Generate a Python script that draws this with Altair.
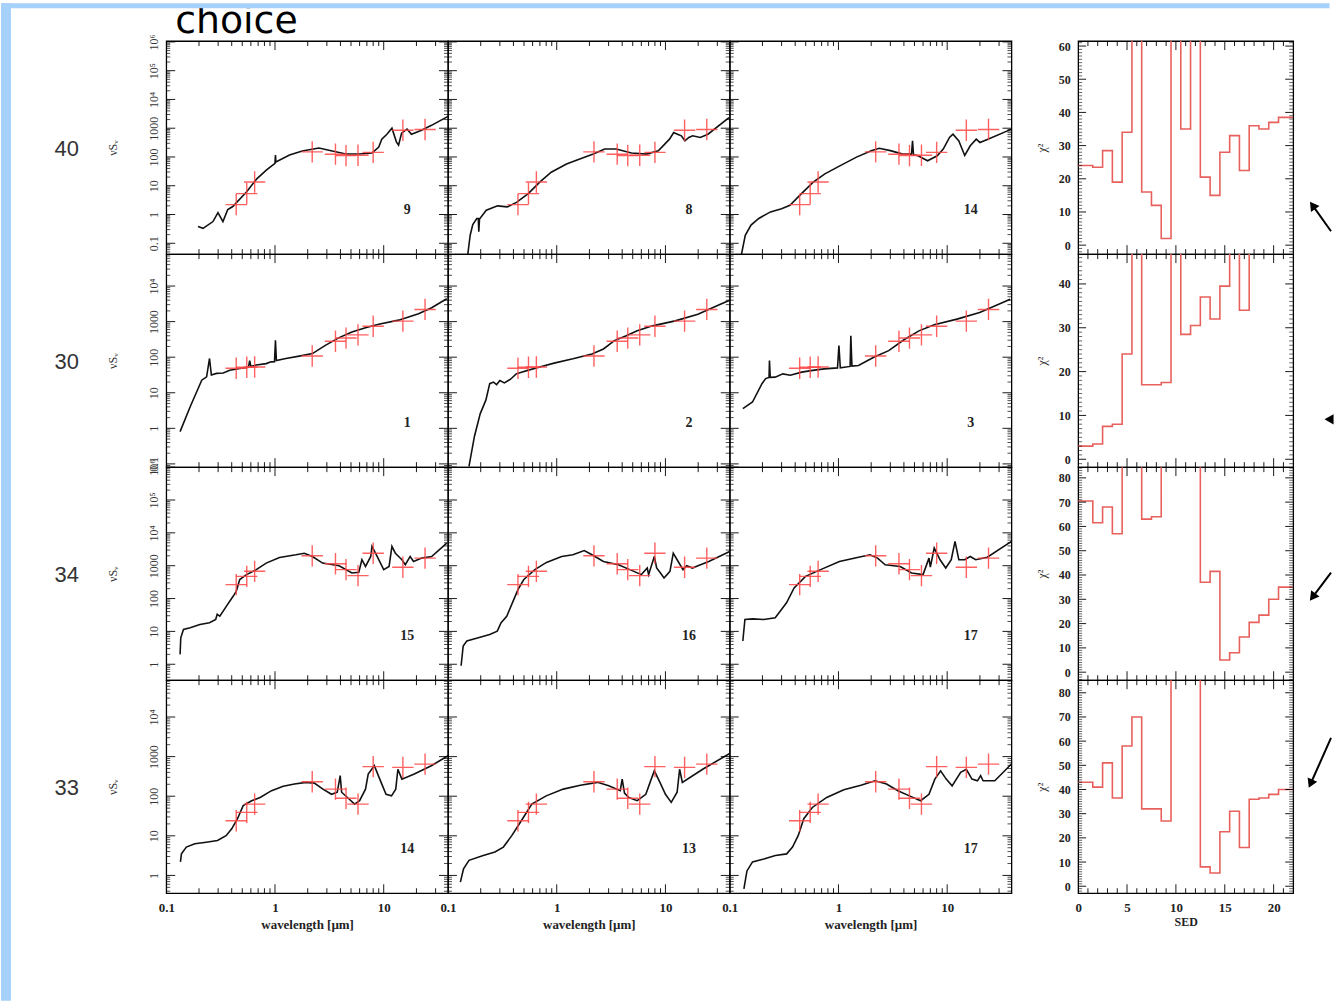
import altair as alt
import pandas as pd

# ---------------- data ----------------
galaxies = [40, 30, 34, 33]
templates = {40: [9, 8, 14], 30: [1, 2, 3], 34: [15, 16, 17], 33: [14, 13, 17]}

# photometric points (wavelength in micron, nu*S_nu)
cross_lam = [0.44, 0.55, 0.65, 2.2, 3.6, 4.5, 5.8, 8.0, 15.0, 24.0]
cross_40 = [2.2, 5.3, 13.5, 150, 125, 112, 115, 145, 850, 900]
cross_30 = [49, 52, 53, 108, 280, 345, 425, 740, 1030, 2200]
cross_34 = [265, 475, 675, 2000, 1150, 760, 500, 2400, 900, 1700]
cross_33 = [24, 39, 63, 232, 151, 89, 63, 560, 535, 645]

# template SEDs
lam_40_9 = [0.196, 0.218, 0.269, 0.299, 0.332, 0.368, 0.409, 0.549, 0.68, 0.837, 1.0, 1.01, 1.02, 1.36, 1.78, 2.54, 3.36, 4.49, 5.9, 7.8, 9.0, 9.6, 10.7, 11.9, 13.1, 13.7, 14.6, 16.4, 18.0, 22.3, 27.5, 39.0]
flux_40_9 = [0.385, 0.33, 0.57, 1.17, 0.57, 1.49, 1.89, 6.2, 17.4, 35.6, 60, 117, 67, 117, 161, 204, 161, 127, 127, 137, 221, 417, 617, 1000, 329, 260, 676, 925, 617, 850, 1260, 2580]
lam_40_8 = [0.152, 0.16, 0.169, 0.184, 0.19, 0.192, 0.195, 0.225, 0.286, 0.351, 0.43, 0.547, 0.698, 0.89, 1.23, 1.70, 2.17, 2.76, 3.52, 4.87, 6.7, 8.6, 10.9, 11.9, 12.9, 14.0, 15.1, 16.4, 17.8, 20.9, 24.6, 38.4]
flux_40_8 = [0.04, 0.19, 0.45, 0.73, 0.73, 0.25, 0.7, 1.41, 2.0, 1.84, 2.7, 5.3, 13.4, 29.5, 57, 90, 126, 189, 189, 137, 126, 165, 417, 708, 620, 545, 366, 477, 545, 477, 617, 2350]
lam_40_14 = [0.128, 0.139, 0.157, 0.185, 0.237, 0.30, 0.358, 0.457, 0.586, 0.75, 1.04, 1.45, 2.0, 2.37, 3.0, 3.9, 4.7, 4.8, 4.9, 5.4, 6.6, 8.1, 9.2, 10.5, 11.3, 12.8, 14.5, 16.3, 18.5, 20.0, 23.7, 39.0]
flux_40_14 = [0.04, 0.19, 0.43, 0.73, 1.23, 1.6, 2.1, 5.3, 13.4, 26, 50, 97, 166, 200, 166, 126, 126, 363, 120, 110, 74, 110, 189, 480, 617, 363, 113, 245, 417, 320, 417, 930]

lam_30_1 = [0.134, 0.166, 0.212, 0.235, 0.25, 0.26, 0.29, 0.334, 0.384, 0.474, 0.57, 0.585, 0.6, 0.673, 0.83, 0.92, 0.99, 1.01, 1.03, 1.26, 1.67, 2.21, 2.93, 3.89, 5.1, 6.8, 9.0, 13.7, 20.9, 27.6, 38.0]
flux_30_1 = [0.81, 4.05, 22.6, 28, 92, 31.6, 35, 36, 43, 48, 52, 80, 55, 60, 66, 74, 75, 300, 80, 92, 107, 126, 218, 355, 513, 676, 840, 1100, 1660, 2460, 4400]
lam_30_2 = [0.156, 0.175, 0.198, 0.223, 0.242, 0.262, 0.28, 0.30, 0.33, 0.376, 0.424, 0.54, 0.685, 0.946, 1.41, 2.11, 2.69, 3.39, 4.36, 5.5, 7.6, 12.3, 19.9, 32.0, 38.5]
flux_30_2 = [0.085, 0.59, 2.6, 6.2, 18, 20, 17, 22, 19, 24, 34, 42.6, 52, 68, 90, 123, 170, 292, 400, 550, 760, 1050, 1620, 3080, 3900]
lam_30_3 = [0.132, 0.162, 0.198, 0.214, 0.23, 0.232, 0.236, 0.262, 0.308, 0.361, 0.459, 0.58, 0.74, 0.98, 1.01, 1.04, 1.28, 1.30, 1.33, 1.53, 2.11, 2.9, 3.97, 5.5, 7.6, 12.3, 19.9, 38.0]
flux_30_3 = [3.6, 5.5, 18, 25, 27, 81, 27, 27.5, 34, 31, 38, 42.6, 47, 50, 213, 50, 55, 400, 56, 58.5, 100, 153, 304, 550, 815, 1175, 1815, 4260]

lam_34_15 = [0.134, 0.136, 0.144, 0.166, 0.204, 0.25, 0.285, 0.294, 0.311, 0.358, 0.412, 0.44, 0.474, 0.547, 0.673, 0.83, 1.10, 1.56, 1.86, 2.21, 2.74, 3.89, 5.1, 5.9, 6.3, 6.8, 7.6, 7.8, 8.7, 10.0, 11.2, 11.9, 12.8, 14.7, 15.8, 17.5, 18.8, 22.4, 27.6, 38.0]
flux_34_15 = [2.0, 6.4, 11.5, 13, 16.3, 18.3, 23, 33, 29, 59, 117, 166, 380, 535, 760, 1200, 1780, 2150, 2400, 1910, 1200, 1000, 600, 630, 1520, 950, 1910, 3850, 1910, 760, 950, 3850, 2400, 1520, 1070, 1910, 1350, 1700, 1910, 4900]
lam_34_16 = [0.132, 0.138, 0.149, 0.19, 0.242, 0.284, 0.308, 0.347, 0.391, 0.44, 0.498, 0.63, 0.805, 1.11, 1.41, 1.79, 2.11, 2.69, 3.7, 4.7, 6.0, 6.8, 7.0, 7.9, 8.3, 9.0, 9.7, 11.0, 11.8, 12.8, 14.5, 15.7, 17.7, 19.9, 25.0, 39.0]
flux_34_16 = [0.9, 3.6, 5.1, 6.4, 8.1, 10.2, 18.3, 29, 74, 186, 380, 760, 1260, 1910, 2150, 2900, 2150, 1350, 1070, 760, 535, 850, 535, 1910, 850, 600, 425, 675, 2400, 1520, 760, 1000, 850, 1000, 1350, 2700]
lam_34_17 = [0.132, 0.138, 0.162, 0.206, 0.262, 0.284, 0.333, 0.391, 0.498, 0.686, 1.02, 1.53, 1.95, 2.29, 2.69, 3.7, 4.7, 6.0, 6.8, 7.0, 7.6, 8.6, 9.7, 10.9, 11.8, 12.8, 14.5, 16.3, 18.3, 23.4, 39.0]
flux_34_17 = [5.1, 23, 24, 23, 26, 37, 74, 210, 475, 760, 1350, 1820, 2150, 1700, 1070, 950, 600, 535, 1700, 900, 3450, 1520, 850, 1520, 5500, 1520, 1520, 1910, 1520, 1820, 5500]

lam_33_14 = [0.135, 0.138, 0.153, 0.183, 0.233, 0.296, 0.355, 0.40, 0.452, 0.51, 0.61, 0.73, 0.93, 1.19, 1.51, 1.93, 2.3, 2.76, 3.31, 3.74, 3.98, 4.1, 4.8, 5.4, 6.0, 6.8, 7.2, 8.2, 9.2, 10.5, 11.8, 12.9, 13.5, 14.7, 19.1, 27.4, 39.0]
flux_33_14 = [2.2, 3.5, 5.2, 6.3, 6.9, 7.6, 10.1, 15, 27, 58, 77, 93, 138, 178, 204, 224, 214, 151, 112, 126, 330, 126, 85, 63, 77, 151, 363, 589, 270, 112, 102, 151, 480, 270, 363, 589, 1050]
lam_33_13 = [0.13, 0.139, 0.156, 0.211, 0.27, 0.323, 0.386, 0.463, 0.59, 0.80, 1.15, 1.65, 2.37, 3.01, 3.84, 4.0, 4.2, 4.6, 5.5, 6.6, 7.4, 7.9, 8.9, 10.0, 11.3, 12.8, 13.5, 14.3, 22.0, 39.0]
flux_33_13 = [0.68, 1.47, 2.4, 3.2, 3.9, 5.2, 10.1, 22, 63, 102, 151, 190, 224, 183, 138, 270, 120, 93, 77, 112, 270, 437, 224, 112, 70, 126, 480, 224, 480, 1200]
lam_33_17 = [0.135, 0.144, 0.162, 0.206, 0.263, 0.334, 0.378, 0.426, 0.48, 0.575, 0.78, 1.12, 1.61, 2.17, 2.77, 3.52, 4.5, 5.7, 6.8, 7.7, 8.7, 9.8, 11.1, 13.3, 15.0, 16.9, 19.0, 20.3, 21.4, 27.4, 39.0]
flux_33_17 = [0.46, 1.3, 2.2, 2.6, 3.2, 3.5, 5.2, 10.1, 27, 52, 93, 145, 190, 245, 204, 138, 102, 77, 112, 270, 437, 270, 183, 400, 480, 270, 245, 330, 245, 245, 650]

# chi^2 of templates SED 1..21 (values of 100 are off the top of the panel)
chi2_40 = [24, 23.5, 28.5, 19, 34, 100, 16, 12, 2, 100, 35, 100, 20.5, 15, 28, 33, 22.5, 36, 35, 37, 38.5]
chi2_30 = [3, 3.5, 7.5, 8, 24, 100, 17, 17, 17.5, 100, 28.5, 30.5, 37, 32, 39.5, 100, 34, 100, 100, 100, 100]
chi2_34 = [70.5, 61.5, 68, 57, 100, 100, 63, 64, 100, 100, 100, 100, 37, 41.5, 5, 8, 14.5, 20.5, 23.5, 30, 35]
chi2_33 = [43, 41, 51, 36.5, 58, 70, 32, 32, 27, 100, 100, 100, 8, 5.5, 22.5, 31, 16, 36, 36.5, 38, 40]

sed_lam = {(40, 9): lam_40_9, (40, 8): lam_40_8, (40, 14): lam_40_14,
           (30, 1): lam_30_1, (30, 2): lam_30_2, (30, 3): lam_30_3,
           (34, 15): lam_34_15, (34, 16): lam_34_16, (34, 17): lam_34_17,
           (33, 14): lam_33_14, (33, 13): lam_33_13, (33, 17): lam_33_17}
sed_flux = {(40, 9): flux_40_9, (40, 8): flux_40_8, (40, 14): flux_40_14,
            (30, 1): flux_30_1, (30, 2): flux_30_2, (30, 3): flux_30_3,
            (34, 15): flux_34_15, (34, 16): flux_34_16, (34, 17): flux_34_17,
            (33, 14): flux_33_14, (33, 13): flux_33_13, (33, 17): flux_33_17}
cross_flux = {40: cross_40, 30: cross_30, 34: cross_34, 33: cross_33}
chi2 = {40: chi2_40, 30: chi2_30, 34: chi2_34, 33: chi2_33}

# ---------------- layout / style ----------------
W, H, HW, GAP = 283, 214, 216, 67
XDOM = [0.1, 39.0]
YDOM = {40: [0.042, 1.07e6], 30: [0.081, 7.9e4], 34: [0.327, 1.0e6], 33: [0.355, 8.5e4]}
HDOM = {40: [-2.7, 61.5], 30: [-1.8, 46.8], 34: [-3.3, 84.4], 33: [-2.9, 85.2]}
SERIF = "Liberation Serif"
BLUE = "#a6d1fa"
RED = "#ff4646"
HRED = "#e8605c"

YLAB = ("datum.value < 0.5 ? '0.1' : datum.value < 5 ? '1' : datum.value < 50 ? '10' : "
        "datum.value < 500 ? '100' : datum.value < 5000 ? '1000' : datum.value < 50000 ? '10⁴' : "
        "datum.value < 500000 ? '10⁵' : '10⁶'")
XLAB = "datum.value < 0.5 ? '0.1' : datum.value < 5 ? '1' : '10'"


def decades(lo, hi):
    return [10.0 ** k for k in range(-3, 8) if lo * 0.999 <= 10.0 ** k <= hi * 1.001]


def log_minors(lo, hi):
    return [m * 10.0 ** k for k in range(-3, 8) for m in range(2, 10) if lo < m * 10.0 ** k < hi]


def one():
    return pd.DataFrame({"a": [0]})


def vticks(vals, scale, axis, length, edge, height, sw=0.9):
    y0, y1 = (height, height - length) if edge == "bottom" else (0, length)
    return alt.Chart(pd.DataFrame({"v": vals})).mark_rule(color="black", strokeWidth=sw).encode(
        x=alt.X("v:Q", scale=scale, axis=axis), y=alt.value(y0), y2=alt.value(y1))


def hticks(vals, scale, axis, length, edge, width, sw=0.9):
    x0, x1 = (0, length) if edge == "left" else (width, width - length)
    return alt.Chart(pd.DataFrame({"v": vals})).mark_rule(color="black", strokeWidth=sw).encode(
        y=alt.Y("v:Q", scale=scale, axis=axis), x=alt.value(x0), x2=alt.value(x1))


def decor_layers():
    left = alt.Chart(one()).mark_rect(color=BLUE).encode(
        x=alt.value(-166), x2=alt.value(-156), y=alt.value(-38), y2=alt.value(964))
    title = alt.Chart(pd.DataFrame({"t": ["choice"]})).mark_text(
        align="left", baseline="alphabetic", font="DejaVu Sans", fontSize=38, color="black").encode(
        x=alt.value(9), y=alt.value(-8), text="t:N")
    top = alt.Chart(one()).mark_rect(color=BLUE).encode(
        x=alt.value(-166), x2=alt.value(1168.5), y=alt.value(-38), y2=alt.value(-33))
    return [left, title, top]


def sed_panel(gal, ci, tmpl, last_row):
    lo, hi = YDOM[gal]
    xs = alt.Scale(type="log", domain=XDOM, nice=False)
    ys = alt.Scale(type="log", domain=[lo, hi], nice=False)
    xaxis = None
    if last_row:
        xaxis = alt.Axis(values=[0.1, 1, 10], labelExpr=XLAB, ticks=False, domain=False,
                         grid=False, labelFlush=False, labelOverlap=False, labelPadding=8, zindex=1,
                         labelFont=SERIF, labelFontSize=13, labelFontWeight="bold", labelColor="#222",
                         title="wavelength [µm]", titleFont=SERIF, titleFontSize=13,
                         titleFontWeight="bold", titleColor="#222", titlePadding=4)
    yaxis = None
    if ci == 0:
        yaxis = alt.Axis(values=decades(lo, hi), labelExpr=YLAB, ticks=False, domain=False,
                         grid=False, labelAngle=-90, labelAlign="center", labelBaseline="bottom",
                         labelPadding=6, labelOverlap=False, labelFlush=False, labelFont=SERIF,
                         labelFontSize=12, labelColor="#333", zindex=1,
                         title="νSᵥ", titleFont=SERIF, titleFontSize=12, titleFontWeight="normal",
                         titleColor="#333", titlePadding=28)
    df = pd.DataFrame({"lam": sed_lam[(gal, tmpl)], "flux": sed_flux[(gal, tmpl)]})
    layers = [alt.Chart(df).mark_line(color="#111", strokeWidth=1.6, clip=True).encode(
        x=alt.X("lam:Q", scale=xs, axis=xaxis), y=alt.Y("flux:Q", scale=ys, axis=yaxis))]
    if gal == galaxies[0] and ci == 0:
        layers += decor_layers()
    xmaj, xmin = [1.0, 10.0], log_minors(*XDOM)
    ymaj, ymin = decades(lo, hi), log_minors(lo, hi)
    layers += [
        vticks(xmaj, xs, xaxis, 9, "bottom", H), vticks(xmin, xs, xaxis, 5, "bottom", H),
        vticks(xmaj, xs, xaxis, 9, "top", H), vticks(xmin, xs, xaxis, 5, "top", H),
        hticks(ymaj, ys, yaxis, 9, "left", W), hticks(ymin, ys, yaxis, 4, "left", W, 0.7),
        hticks(ymaj, ys, yaxis, 9, "right", W), hticks(ymin, ys, yaxis, 4, "right", W, 0.7),
    ]
    dfc = pd.DataFrame({"lam": cross_lam, "flux": cross_flux[gal]})
    layers.append(alt.Chart(dfc).mark_point(shape="M-1,0L1,0M0,-1L0,1", size=460, filled=False,
                                            color=RED, strokeWidth=1.4, opacity=0.85).encode(
        x=alt.X("lam:Q", scale=xs, axis=xaxis), y=alt.Y("flux:Q", scale=ys, axis=yaxis)))
    layers.append(alt.Chart(pd.DataFrame({"t": [str(tmpl)]})).mark_text(
        font=SERIF, fontSize=14, fontWeight="bold", color="#222").encode(
        x=alt.value(242), y=alt.value(170), text="t:N"))
    if ci == 0:
        layers.append(alt.Chart(pd.DataFrame({"t": [str(gal)]})).mark_text(
            font="Liberation Sans", fontSize=22, color="#333").encode(
            x=alt.value(-100), y=alt.value(108), text="t:N"))
    return alt.layer(*layers).properties(width=W, height=H)


ARROWS = {40: ((254, 191), (235.5, 165), 324.7),
          30: ((254, 166), (252, 166), 270),
          34: ((254, 106), (235.5, 130.5), 216.9),
          33: ((254, 58), (233.5, 104), 203.7)}


def hist_panel(gal, last_row):
    lo, hi = HDOM[gal]
    xs = alt.Scale(domain=[0, 22], nice=False, zero=False)
    ys = alt.Scale(domain=[lo, hi], nice=False, zero=False)
    vals = chi2[gal]
    edges = [0.0] + [k + 0.5 for k in range(1, len(vals))] + [22.0]
    df = pd.DataFrame({"sed": edges, "chi2": list(vals) + [vals[-1]]})
    xaxis = None
    if last_row:
        xaxis = alt.Axis(values=[0, 5, 10, 15, 20], ticks=False, domain=False, grid=False,
                         labelFlush=False, labelOverlap=False, labelPadding=8, labelFont=SERIF,
                         labelFontSize=13, labelFontWeight="bold", labelColor="#222", zindex=1,
                         title="SED", titleFont=SERIF, titleFontSize=12, titleFontWeight="bold",
                         titleColor="#222", titlePadding=2)
    yaxis = alt.Axis(values=list(range(0, int(hi) + 1, 10)), ticks=False, domain=False,
                     grid=False, labelPadding=8, labelOverlap=False, labelFont=SERIF, labelFontSize=12,
                     labelFontWeight="bold", labelColor="#222", title="χ²", titleFont=SERIF, zindex=1,
                     titleFontSize=12, titleFontWeight="normal", titleColor="#222", titlePadding=10)
    xmaj = [5, 10, 15, 20]
    xmin = [k for k in range(1, 22) if k % 5]
    ymaj = [v for v in range(-10, 100, 10) if lo < v < hi]
    ymin = [v for v in range(-10, 100) if lo < v < hi and v % 10]
    layers = [
        alt.Chart(df).mark_line(interpolate="step-after", color=HRED, strokeWidth=1.6, clip=True).encode(
            x=alt.X("sed:Q", scale=xs, axis=xaxis), y=alt.Y("chi2:Q", scale=ys, axis=yaxis)),
        vticks(xmaj, xs, xaxis, 9, "bottom", H), vticks(xmin, xs, xaxis, 5, "bottom", H),
        vticks(xmaj, xs, xaxis, 9, "top", H), vticks(xmin, xs, xaxis, 5, "top", H),
        hticks(ymaj, ys, yaxis, 8, "left", HW), hticks(ymin, ys, yaxis, 4, "left", HW, 0.6),
        hticks(ymaj, ys, yaxis, 8, "right", HW), hticks(ymin, ys, yaxis, 4, "right", HW, 0.6),
    ]
    tail, head, ang = ARROWS[gal]
    layers.append(alt.Chart(one()).mark_rule(color="black", strokeWidth=2).encode(
        x=alt.value(tail[0]), y=alt.value(tail[1]), x2=alt.value(head[0]), y2=alt.value(head[1])))
    layers.append(alt.Chart(one()).mark_point(shape="triangle-up", size=110, filled=True, color="black",
                                              opacity=1, angle=ang).encode(
        x=alt.value(head[0]), y=alt.value(head[1])))
    return alt.layer(*layers).properties(width=HW, height=H)


def spacer():
    return alt.Chart(one()).mark_point(opacity=0).encode(
        x=alt.value(0), y=alt.value(0)).properties(
        width=GAP, height=H, view=alt.ViewBackground(stroke="transparent"))


panels = []
for ri, gal in enumerate(galaxies):
    last = ri == len(galaxies) - 1
    for ci, tmpl in enumerate(templates[gal]):
        panels.append(sed_panel(gal, ci, tmpl, last))
    panels.append(spacer())
    panels.append(hist_panel(gal, last))

chart = alt.concat(*panels, columns=5, spacing=0, bounds="flush", align="each").configure_view(
    stroke="black", strokeWidth=1.3).properties(padding=0, background="white")

chart.save("out.html", embed_options={"renderer": "svg", "actions": False})
